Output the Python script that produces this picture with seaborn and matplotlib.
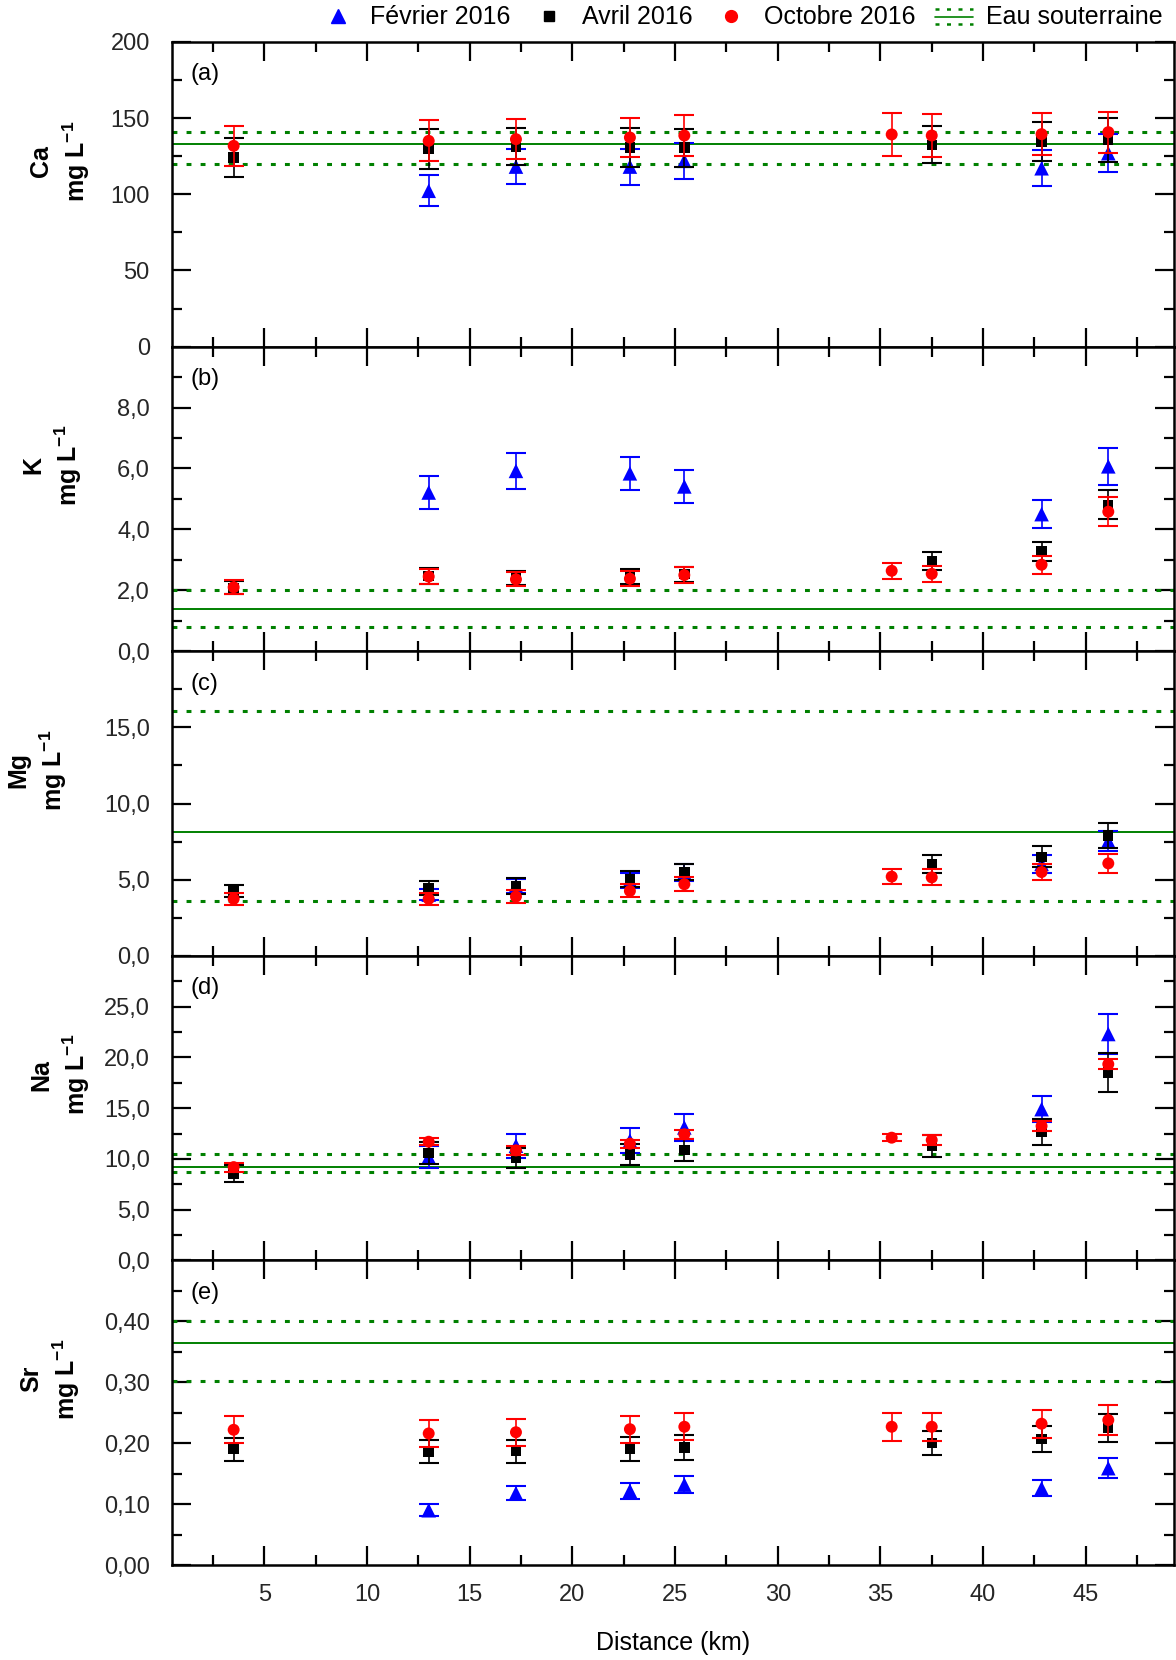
import numpy as np
import pandas as pd
import matplotlib
matplotlib.use("Agg")
import matplotlib.pyplot as plt
import seaborn as sns
from matplotlib.lines import Line2D
from matplotlib.legend_handler import HandlerBase
from matplotlib.ticker import FixedLocator, FuncFormatter

# ---------------- data ----------------
x_fev = [13.0, 17.25, 22.8, 25.45, 42.85, 46.1]
x_avr = [3.5, 13.0, 17.25, 22.8, 25.45, 37.5, 42.85, 46.1]
x_oct = [3.5, 13.0, 17.25, 22.8, 25.45, 35.55, 37.5, 42.85, 46.1]

ca_fev = [102.3, 118.2, 118.2, 122.0, 117.1, 127.0]
ca_fev_err = [10.2, 11.7, 11.8, 12.0, 11.7, 12.6]
ca_avr = [124.2, 129.8, 131.4, 130.7, 130.7, 132.5, 134.7, 135.8]
ca_avr_err = [12.8, 13.0, 12.0, 12.7, 12.5, 12.2, 13.0, 14.6]
ca_oct = [131.8, 135.1, 136.2, 137.3, 138.6, 139.3, 138.6, 139.5, 140.8]
ca_oct_err = [13.0, 13.5, 13.0, 13.1, 13.4, 14.0, 14.0, 13.8, 13.5]

k_fev = [5.21, 5.92, 5.84, 5.41, 4.50, 6.07]
k_fev_err = [0.53, 0.58, 0.55, 0.53, 0.45, 0.60]
k_avr = [2.08, 2.47, 2.40, 2.45, 2.53, 2.97, 3.28, 4.81]
k_avr_err = [0.21, 0.25, 0.24, 0.24, 0.25, 0.30, 0.32, 0.48]
k_oct = [2.10, 2.45, 2.36, 2.38, 2.50, 2.64, 2.54, 2.84, 4.58]
k_oct_err = [0.23, 0.24, 0.23, 0.24, 0.25, 0.27, 0.26, 0.29, 0.47]

mg_fev = [4.02, 4.60, 4.95, 5.45, 6.04, 7.54]
mg_fev_err = [0.38, 0.45, 0.50, 0.56, 0.60, 0.67]
mg_avr = [4.26, 4.44, 4.59, 5.05, 5.50, 6.04, 6.50, 7.89]
mg_avr_err = [0.42, 0.47, 0.53, 0.55, 0.55, 0.60, 0.68, 0.80]
mg_oct = [3.74, 3.74, 3.89, 4.26, 4.70, 5.20, 5.15, 5.50, 6.07]
mg_oct_err = [0.38, 0.40, 0.40, 0.43, 0.47, 0.50, 0.52, 0.55, 0.60]

na_fev = [10.2, 11.3, 11.8, 13.1, 14.9, 22.3]
na_fev_err = [1.05, 1.2, 1.2, 1.3, 1.3, 2.0]
na_avr = [8.56, 10.6, 10.1, 10.44, 10.87, 11.26, 12.65, 18.51]
na_avr_err = [0.85, 1.1, 0.95, 1.05, 1.05, 1.1, 1.3, 1.9]
na_oct = [9.19, 11.69, 10.84, 11.5, 12.42, 12.09, 11.86, 13.24, 19.33]
na_oct_err = [0.45, 0.36, 0.45, 0.40, 0.45, 0.35, 0.45, 0.50, 0.50]

sr_fev = [0.090, 0.118, 0.122, 0.132, 0.126, 0.159]
sr_fev_err = [0.010, 0.011, 0.013, 0.014, 0.013, 0.016]
sr_avr = [0.190, 0.186, 0.187, 0.191, 0.193, 0.200, 0.207, 0.225]
sr_avr_err = [0.019, 0.019, 0.019, 0.020, 0.020, 0.020, 0.021, 0.023]
sr_oct = [0.222, 0.216, 0.218, 0.223, 0.227, 0.227, 0.227, 0.232, 0.238]
sr_oct_err = [0.022, 0.022, 0.022, 0.022, 0.022, 0.023, 0.023, 0.023, 0.024]

# groundwater reference (Eau souterraine): mean, upper, lower
gw_mean = [133.3, 1.38, 8.16, 9.24, 0.365]
gw_high = [140.8, 2.01, 16.1, 10.5, 0.400]
gw_low = [119.8, 0.79, 3.62, 8.68, 0.302]

elements = ["Ca", "K", "Mg", "Na", "Sr"]
panel_letters = ["(a)", "(b)", "(c)", "(d)", "(e)"]
series_labels = ["Février 2016", "Avril 2016", "Octobre 2016"]
gw_label = "Eau souterraine"
x_label = "Distance (km)"

ylims = [(0, 200), (0, 10), (0, 20), (0, 30), (0, 0.5)]
yticks_major = [[0, 50, 100, 150, 200], [0, 2, 4, 6, 8], [0, 5, 10, 15],
                [0, 5, 10, 15, 20, 25], [0, 0.1, 0.2, 0.3, 0.4]]
yticks_minor = [[25, 75, 125, 175], [1, 3, 5, 7, 9], [2.5, 7.5, 12.5, 17.5],
                [2.5, 7.5, 12.5, 17.5, 22.5, 27.5], [0.05, 0.15, 0.25, 0.35, 0.45]]
ydecimals = [0, 1, 1, 1, 2]
xticks_major = [5, 10, 15, 20, 25, 30, 35, 40, 45]
xticks_minor = [2.5, 7.5, 12.5, 17.5, 22.5, 27.5, 32.5, 37.5, 42.5, 47.5]
xlim = (0.5, 49.3)

values = [
    [(ca_fev, ca_fev_err), (ca_avr, ca_avr_err), (ca_oct, ca_oct_err)],
    [(k_fev, k_fev_err), (k_avr, k_avr_err), (k_oct, k_oct_err)],
    [(mg_fev, mg_fev_err), (mg_avr, mg_avr_err), (mg_oct, mg_oct_err)],
    [(na_fev, na_fev_err), (na_avr, na_avr_err), (na_oct, na_oct_err)],
    [(sr_fev, sr_fev_err), (sr_avr, sr_avr_err), (sr_oct, sr_oct_err)],
]
xs = [x_fev, x_avr, x_oct]

# ---------------- style ----------------
sns.set_theme(style="ticks")
plt.rcParams["font.family"] = ["Liberation Sans", "DejaVu Sans"]
plt.rcParams["mathtext.fontset"] = "custom"
plt.rcParams["mathtext.rm"] = "Liberation Sans"
plt.rcParams["mathtext.bf"] = "Liberation Sans:bold"
plt.rcParams["axes.linewidth"] = 1.8

colors = ["#0000ff", "#000000", "#ff0000"]
markers = ["^", "s", "o"]
sizes = [110, 56, 74]
green = "#008000"
dot_style = (0, (1.6, 3.0))

fig = plt.figure(figsize=(11.76, 16.6), dpi=100)
axes = fig.subplots(5, 1, sharex=True)
fig.subplots_adjust(left=0.1463, right=0.9983, top=0.9747, bottom=0.0572, hspace=0)

label_x = [-0.080, -0.088, -0.103, -0.080, -0.090]

for i, ax in enumerate(axes):
    # groundwater lines
    ax.axhline(gw_mean[i], color=green, lw=1.4, zorder=1)
    ax.axhline(gw_high[i], color=green, lw=2.2, ls=dot_style, zorder=1)
    ax.axhline(gw_low[i], color=green, lw=2.2, ls=dot_style, zorder=1)

    for j in range(3):
        y, e = values[i][j]
        df = pd.DataFrame({"x": xs[j], "y": y, "err": e})
        z = 3 + 2 * j
        ax.errorbar(df["x"], df["y"], yerr=df["err"], fmt="none", ecolor=colors[j],
                    elinewidth=1.2, capsize=7.5, capthick=1.5, zorder=z)
        sns.scatterplot(data=df, x="x", y="y", marker=markers[j], color=colors[j],
                        s=sizes[j], edgecolor="none", linewidth=0, ax=ax,
                        zorder=z + 1, legend=False)

    ax.set_xlim(*xlim)
    ax.set_ylim(*ylims[i])
    ax.yaxis.set_major_locator(FixedLocator(yticks_major[i]))
    ax.yaxis.set_minor_locator(FixedLocator(yticks_minor[i]))
    d = ydecimals[i]
    ax.yaxis.set_major_formatter(FuncFormatter(
        lambda v, p, d=d: (f"{v:.{d}f}").replace(".", ",")))
    ax.xaxis.set_major_locator(FixedLocator(xticks_major))
    ax.xaxis.set_minor_locator(FixedLocator(xticks_minor))

    ax.tick_params(axis="both", which="major", direction="in", length=14, width=1.6,
                   top=True, right=True, labelsize=17, color="black")
    ax.tick_params(axis="both", which="minor", direction="in", length=7, width=1.6,
                   top=True, right=True, color="black")
    ax.tick_params(axis="y", which="major", pad=16)
    ax.tick_params(axis="x", which="major", pad=14)
    for sp in ax.spines.values():
        sp.set_color("black")
        sp.set_linewidth(1.8)

    ax.set_xlabel("")
    ax.set_ylabel(f"{elements[i]}\nmg L$^{{\\mathbf{{-1}}}}$", fontsize=18,
                  fontweight="bold", linespacing=1.3, color="black")
    ax.yaxis.set_label_coords(label_x[i], 0.61)
    ax.text(0.018, 0.894, panel_letters[i], transform=ax.transAxes, va="center",
            ha="left", fontsize=17, color="black")

axes[-1].set_xlabel(x_label, fontsize=18, color="black")
axes[-1].xaxis.set_label_coords(0.5, -0.217)


# ---------------- legend ----------------
class GWHandler(HandlerBase):
    def create_artists(self, legend, orig_handle, xdescent, ydescent, width,
                       height, fontsize, trans):
        arts = []
        for frac, ls, lw in [(0.9, dot_style, 1.8), (0.45, "-", 1.2), (0.0, dot_style, 1.8)]:
            yy = frac * height - ydescent
            ln = Line2D([-xdescent, -xdescent + width], [yy, yy], color=green,
                        lw=lw, ls=ls, transform=trans)
            arts.append(ln)
        return arts


handles = [Line2D([], [], marker=markers[j], color=colors[j], ls="none",
                  markersize=[10, 7, 8.5][j]) for j in range(3)]
gw_handle = Line2D([], [], color=green)
handles.append(gw_handle)
labels = series_labels + [gw_label]
fig.legend(handles, labels, loc="center", bbox_to_anchor=(0.630, 0.9895), ncol=4,
           frameon=False, fontsize=18, handlelength=1.5, handletextpad=0.55,
           columnspacing=0.8, borderaxespad=0, labelcolor="black",
           handler_map={gw_handle: GWHandler()})

fig.savefig("out.png", dpi=100)
